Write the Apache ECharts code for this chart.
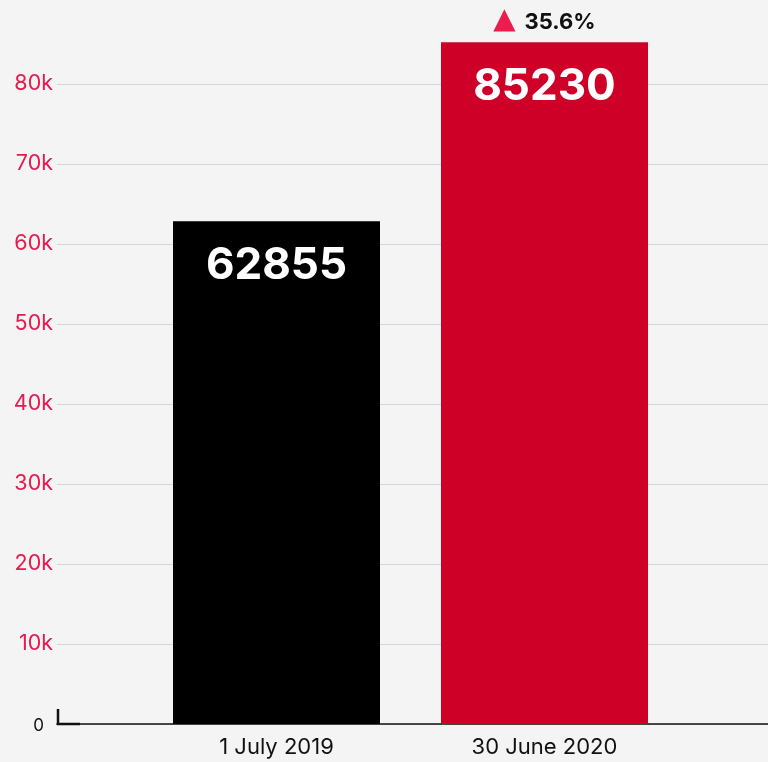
<!DOCTYPE html>
<html>
<head>
<meta charset="utf-8">
<script src="https://cdn.jsdelivr.net/npm/echarts@6/dist/echarts.min.js"></script>
<style>
html,body{margin:0;padding:0;background:#f3f4f3;}
#chart{width:768px;height:762px;}
</style>
</head>
<body>
<div id="chart"></div>
<script>
const categories = ['1 July 2019', '30 June 2020'];
const values = [62855, 85230];
const barColors = ['#000000', '#cf0027'];
const yTicks = [0, 10000, 20000, 30000, 40000, 50000, 60000, 70000, 80000];

const change = ((values[1] - values[0]) / values[0] * 100).toFixed(1);

const chart = echarts.init(document.getElementById('chart'));
const font = 'Inter, "Noto Sans", sans-serif';

const option = {
  backgroundColor: '#f3f4f3',
  animation: false,
  grid: [
    { left: 57, right: 0, top: 84, bottom: 38 },
    { left: 142.5, right: 89.5, top: 84, bottom: 38 }
  ],
  xAxis: [
    {
      gridIndex: 0, type: 'category', data: categories,
      axisLine: { show: true, lineStyle: { color: '#111', width: 1.5 } },
      axisTick: { show: false }, axisLabel: { show: false }
    },
    {
      gridIndex: 1, type: 'category', data: categories,
      axisLine: { show: false }, axisTick: { show: false },
      axisLabel: { color: '#111', fontFamily: font, fontSize: 22, margin: 12 }
    }
  ],
  yAxis: [
    {
      gridIndex: 0, type: 'value', min: yTicks[0], max: yTicks[yTicks.length - 1],
      interval: yTicks[1] - yTicks[0],
      axisLine: { show: false }, axisTick: { show: false },
      splitLine: { lineStyle: { color: '#d4d6d6', width: 1 } },
      axisLabel: {
        margin: 4, fontFamily: font, fontSize: 21.5, color: '#e8194c',
        formatter: v => v === 0 ? '{z|0}' : (v / 1000) + 'k',
        rich: { z: { color: '#111', fontSize: 17, fontFamily: font, padding: [4, 9, 0, 0] } }
      }
    },
    {
      gridIndex: 1, type: 'value', min: yTicks[0], max: yTicks[yTicks.length - 1],
      show: false, splitLine: { show: false }
    }
  ],
  series: [{
    type: 'bar',
    xAxisIndex: 1, yAxisIndex: 1,
    clip: false,
    barWidth: 207,
    barGap: '-100%',
    data: values.map((v, i) => ({
      value: v,
      itemStyle: { color: barColors[i] },
      label: {
        show: true, position: 'insideTop', distance: 23,
        color: '#fff', fontFamily: font, fontWeight: 'bold', fontSize: 44,
        formatter: '{c}'
      }
    }))
  }, {
    // change annotation above the latest bar
    type: 'bar',
    xAxisIndex: 1, yAxisIndex: 1,
    clip: false,
    silent: true,
    barWidth: 207,
    barGap: '-100%',
    z: 3,
    itemStyle: { color: 'rgba(0,0,0,0)' },
    data: values.map((v, i) => i === values.length - 1 ? v : null),
    label: {
      show: true, position: 'top', distance: 4,
      formatter: '{t|▲}{p|' + change + '%}',
      rich: {
        t: { color: '#ee1c4c', fontSize: 29, fontFamily: 'DejaVu Sans', padding: [0, 9, 3, 0] },
        p: { color: '#111', fontSize: 22, fontWeight: 'bold', fontFamily: font }
      }
    }
  }]
};
chart.setOption(option);

// small corner mark at the origin
const gridLeft = 57;
const base = chart.convertToPixel({ yAxisIndex: 0 }, 0);
chart.setOption({
  graphic: [{
    type: 'polyline', silent: true,
    shape: { points: [[gridLeft + 1, base - 15], [gridLeft + 1, base], [gridLeft + 23, base]] },
    style: { stroke: '#111', lineWidth: 2.5, fill: null }
  }]
});
</script>
</body>
</html>
